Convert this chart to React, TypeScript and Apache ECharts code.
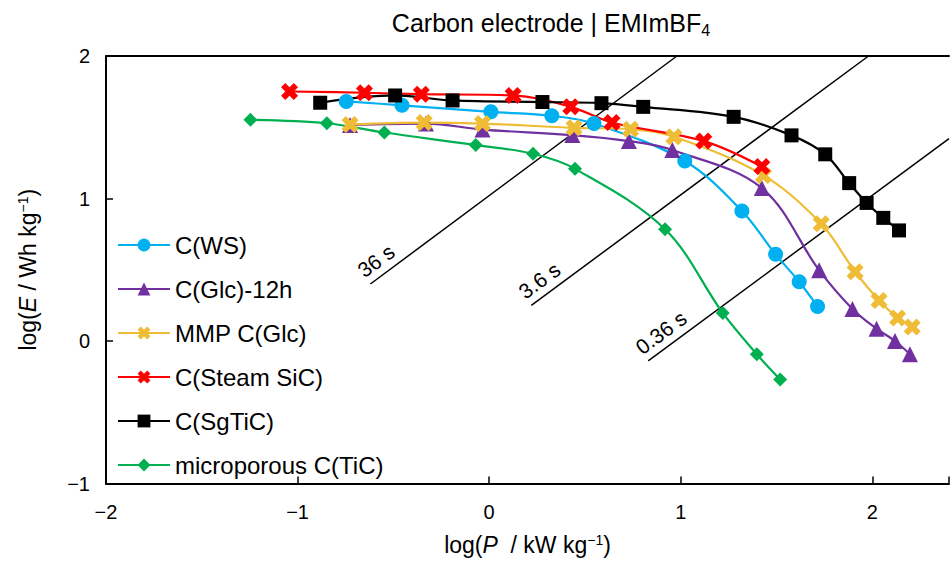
import React, { useEffect, useRef } from 'react';
import * as echarts from 'echarts';

const FONT = '"Liberation Sans", Arial, sans-serif';

// log(P / kW kg-1) and log(E / Wh kg-1)
const wsP = [-0.746, -0.455, 0.009, 0.327, 0.547, 1.021, 1.319, 1.495, 1.618, 1.714];
const wsE = [1.681, 1.654, 1.608, 1.58, 1.526, 1.263, 0.913, 0.608, 0.416, 0.242];

const glcP = [-0.726, -0.33, -0.035, 0.434, 0.729, 0.956, 1.423, 1.722, 1.896, 2.022, 2.118, 2.196];
const glcE = [1.516, 1.526, 1.484, 1.445, 1.403, 1.34, 1.073, 0.497, 0.225, 0.086, 0.0, -0.093];

const mmpP = [-0.726, -0.339, -0.035, 0.443, 0.738, 0.964, 1.432, 1.733, 1.91, 2.035, 2.132, 2.208];
const mmpE = [1.519, 1.533, 1.526, 1.496, 1.486, 1.433, 1.162, 0.822, 0.486, 0.284, 0.162, 0.098];

const steamP = [-1.042, -0.651, -0.354, 0.125, 0.426, 0.641, 1.12, 1.423];
const steamE = [1.751, 1.742, 1.732, 1.723, 1.643, 1.533, 1.403, 1.224];

const sgP = [-0.882, -0.491, -0.191, 0.278, 0.586, 0.804, 1.276, 1.578, 1.754, 1.879, 1.97, 2.057, 2.139];
const sgE = [1.672, 1.723, 1.688, 1.677, 1.669, 1.643, 1.573, 1.443, 1.31, 1.108, 0.969, 0.864, 0.776];

const microP = [-1.246, -0.847, -0.547, -0.07, 0.229, 0.448, 0.918, 1.219, 1.397, 1.519];
const microE = [1.552, 1.528, 1.463, 1.375, 1.314, 1.208, 0.784, 0.197, -0.093, -0.27];

const seriesNames = ['C(WS)', 'C(Glc)-12h', 'MMP C(Glc)', 'C(Steam SiC)', 'C(SgTiC)', 'microporous C(TiC)'];

// constant time lines (log P, log E end points)
const tauLabels = ['36 s', '3.6 s', '0.36 s'];
const tauStartP = [-0.62, 0.22, 0.83];
const tauStartE = [0.4, 0.25, -0.14];
const tauEndP = [0.98, 1.98, 2.4];
const tauEndE = [2.0, 2.0, 1.42];

const zip = (a: number[], b: number[]) => a.map((v, i) => [v, b[i]]);

const XPATH =
  'path://M0,2.5 L2.5,0 L5,2.5 L7.5,0 L10,2.5 L7.5,5 L10,7.5 L7.5,10 L5,7.5 L2.5,10 L0,7.5 L2.5,5 Z';

export default function App() {
  const ref = useRef<HTMLDivElement>(null);
  useEffect(() => {
    if (!ref.current) return;
    const chart = echarts.init(ref.current, undefined, { renderer: 'svg' });

    const mk = (name: string, p: number[], e: number[], color: string, symbol: string, size: number) => ({
      type: 'line',
      name,
      data: zip(p, e),
      smooth: 0.35,
      symbol,
      symbolSize: size,
      showAllSymbol: true,
      lineStyle: { color, width: 2.2 },
      itemStyle: { color },
      z: 3,
    });

    const dataSeries = [
      mk(seriesNames[0], wsP, wsE, '#00B0F0', 'circle', 15),
      mk(seriesNames[1], glcP, glcE, '#7030A0', 'triangle', 16),
      mk(seriesNames[2], mmpP, mmpE, '#EEBC35', XPATH, 17),
      mk(seriesNames[3], steamP, steamE, '#FF0000', XPATH, 17),
      mk(seriesNames[4], sgP, sgE, '#000000', 'rect', 14),
      mk(seriesNames[5], microP, microE, '#00B050', 'diamond', 14),
    ];

    const tauSeries = tauLabels.map((t, i) => ({
      type: 'line',
      name: t,
      data: [[tauStartP[i], tauStartE[i]], [tauEndP[i], tauEndE[i]]],
      symbol: 'none',
      silent: true,
      lineStyle: { color: '#000', width: 1.5 },
      z: 2,
    }));

    const nameRich = {
      a: { fontSize: 23, color: '#000', fontFamily: FONT },
      i: { fontSize: 23, color: '#000', fontFamily: FONT, fontStyle: 'italic' },
      s: { fontSize: 14, color: '#000', fontFamily: FONT, verticalAlign: 'top', padding: [0, 0, 10, 0] },
    };

    chart.setOption({
      animation: false,
      textStyle: { fontFamily: FONT },
      grid: { left: 106, top: 56, right: 0, bottom: 74 },
      legend: {
        data: seriesNames,
        orient: 'vertical',
        left: 112,
        top: 228,
        itemWidth: 52,
        itemHeight: 16,
        itemGap: 20,
        textStyle: { fontSize: 24, color: '#000', fontFamily: FONT },
      },
      xAxis: [
        {
          type: 'value',
          min: -2,
          max: 2.4,
          interval: 1,
          position: 'bottom',
          axisLine: { show: true, onZero: false, lineStyle: { color: '#000', width: 2 } },
          axisTick: { show: true, inside: true, length: 7, lineStyle: { color: '#000', width: 1.5 } },
          axisLabel: {
            fontSize: 20,
            color: '#000',
            margin: 18,
            fontFamily: FONT,
            formatter: (v: number) => (v > 2.01 ? '' : v < 0 ? '\u2212' + Math.abs(v) : String(v)),
          },
          splitLine: { show: false },
          name: '{a|log(}{i|P}{a|  / kW kg}{s|\u22121}{a|)}',
          nameLocation: 'middle',
          nameGap: 49,
          nameTextStyle: { rich: nameRich },
        },
        {
          type: 'value',
          min: -2,
          max: 2.4,
          position: 'top',
          axisLine: { show: true, onZero: false, lineStyle: { color: '#000', width: 2 } },
          axisTick: { show: false },
          axisLabel: { show: false },
          splitLine: { show: false },
        },
      ],
      yAxis: {
        type: 'value',
        min: -1,
        max: 2,
        interval: 1,
        axisLine: { show: true, onZero: false, lineStyle: { color: '#000', width: 2 } },
        axisTick: { show: true, inside: true, length: 7, lineStyle: { color: '#000', width: 1.5 } },
        axisLabel: {
          fontSize: 20,
          color: '#000',
          margin: 16,
          fontFamily: FONT,
          formatter: (v: number) => (v < 0 ? '\u2212' + Math.abs(v) : String(v)),
        },
        splitLine: { show: false },
        name: '{a|log(}{i|E}{a| / Wh kg}{s|\u22121}{a|)}',
        nameLocation: 'middle',
        nameGap: 66,
        nameRotate: 90,
        nameTextStyle: { rich: nameRich },
      },
      series: [...tauSeries, ...dataSeries],
    });

    const labels = tauLabels.map((t, i) => {
      const s = chart.convertToPixel({ gridIndex: 0 }, [tauStartP[i], tauStartE[i]]) as number[];
      const e = chart.convertToPixel({ gridIndex: 0 }, [tauEndP[i], tauEndE[i]]) as number[];
      const ang = Math.atan2(s[1] - e[1], e[0] - s[0]);
      return {
        type: 'text',
        x: s[0] - 4,
        y: s[1] - 3,
        rotation: ang,
        style: {
          text: t,
          font: `21px ${FONT}`,
          fill: '#000',
          align: 'left',
          verticalAlign: 'bottom',
        },
        z: 10,
      };
    });

    chart.setOption({
      graphic: [
        {
          type: 'text',
          x: 551,
          y: 23,
          style: {
            text: '{a|Carbon electrode | EMImBF}{b|4}',
            align: 'center',
            verticalAlign: 'middle',
            rich: {
              a: { fontSize: 25, fill: '#000', fontFamily: FONT, lineHeight: 30 },
              b: { fontSize: 16, fill: '#000', fontFamily: FONT, lineHeight: 30, verticalAlign: 'bottom' },
            },
          },
        },
        ...labels,
      ],
    });

    return () => chart.dispose();
  }, []);
  return <div ref={ref} style={{ width: 952, height: 561, position: 'absolute', left: 0, top: 0 }} />;
}
